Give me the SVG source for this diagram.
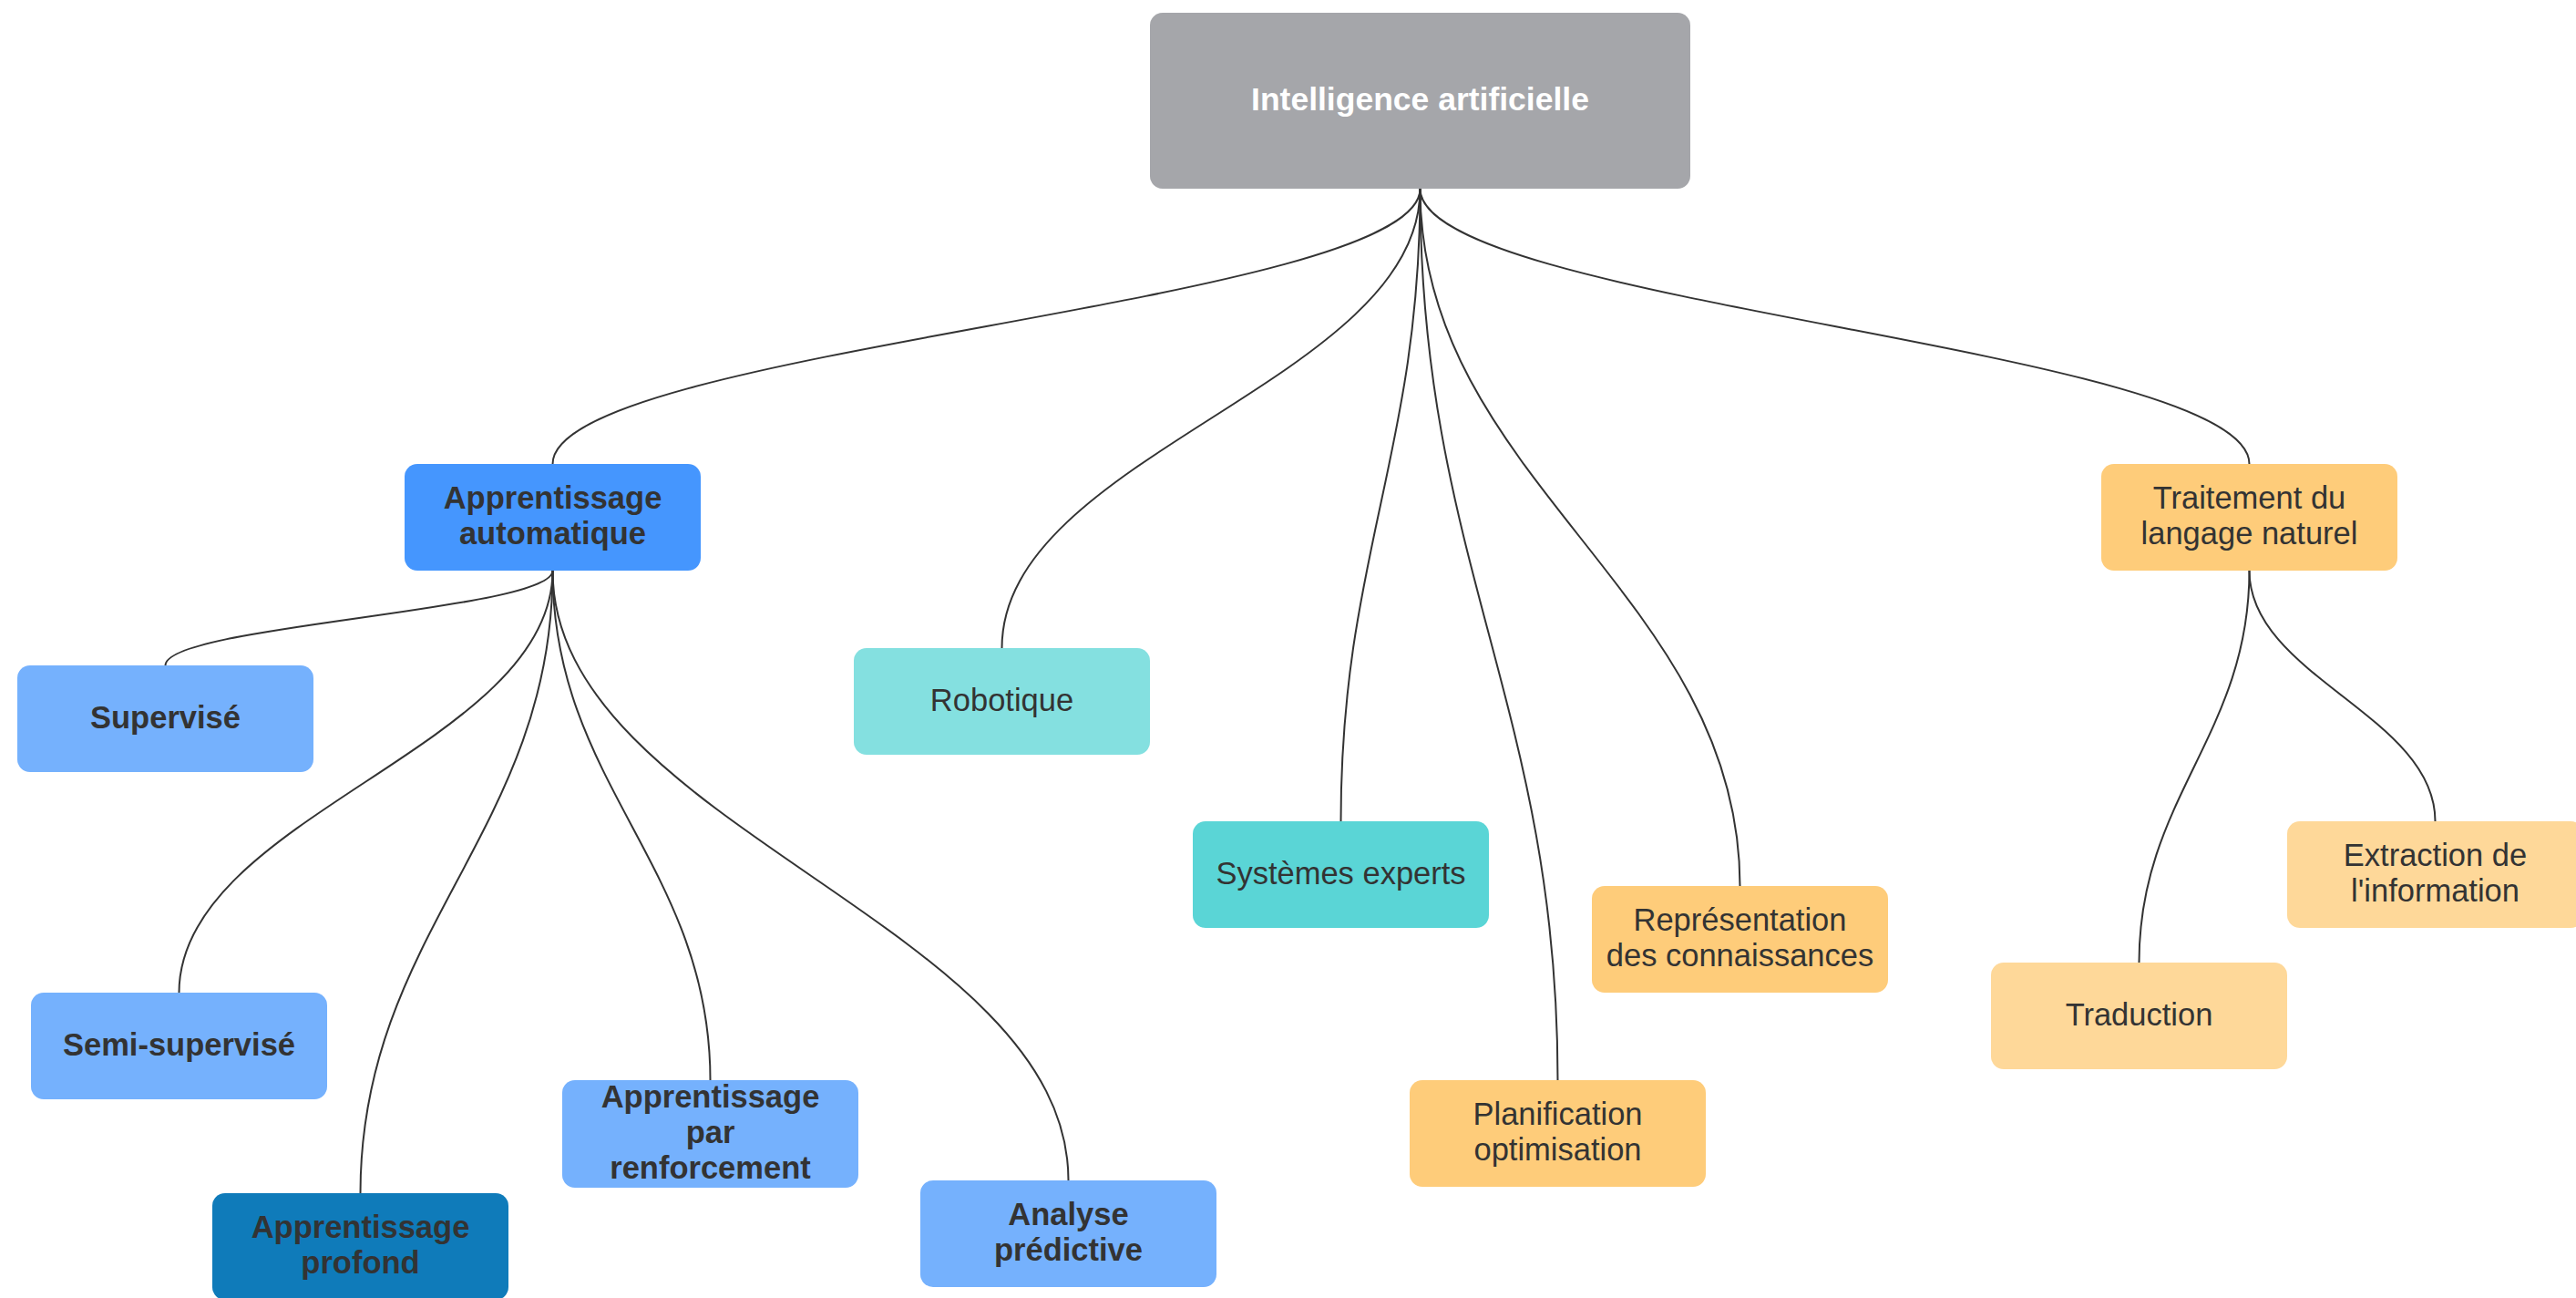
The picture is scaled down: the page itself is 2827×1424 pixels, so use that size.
<svg xmlns="http://www.w3.org/2000/svg" width="2827" height="1424" viewBox="0 0 2827 1424">
  <style>
    .box { stroke: none; }
    .t { font-family: "Liberation Sans", Arial, Helvetica, sans-serif; font-size: 34.5px; fill: #333333; text-anchor: middle; }
    .b { font-weight: bold; }
    .root { fill: #ffffff; font-weight: bold; font-size: 35.5px; }
    .edge { fill: none; stroke: #333333; stroke-width: 2; }
    .gray { fill: #a5a6aa; }
    .blue { fill: #4596fe; }
    .lblue { fill: #75b1fd; }
    .dblue { fill: #0f7bba; }
    .lteal { fill: #84e0e0; }
    .teal { fill: #5ad5d6; }
    .orange { fill: #fecc7a; }
    .lorange { fill: #fed899; }
  </style>
  <rect width="2827" height="1424" fill="#ffffff"/>
  <g id="connectors">
    <path class="edge" d="M1558.5,207 C1558.5,334 606.5,382 606.5,509"/>
    <path class="edge" d="M1558.5,207 C1558.5,419 1099.5,499 1099.5,711"/>
    <path class="edge" d="M1558.5,207 C1558.5,498 1471.5,610 1471.5,901"/>
    <path class="edge" d="M1558.5,207 C1558.5,618 1709.5,774 1709.5,1185"/>
    <path class="edge" d="M1558.5,207 C1558.5,528 1909.5,651 1909.5,972"/>
    <path class="edge" d="M1558.5,207 C1558.5,334 2468.5,382 2468.5,509"/>
    <path class="edge" d="M606.5,626 C606.5,670 181.5,686 181.5,730"/>
    <path class="edge" d="M606.5,626 C606.5,820 196.5,895 196.5,1089"/>
    <path class="edge" d="M606.5,626 C606.5,913 395.5,1022 395.5,1309"/>
    <path class="edge" d="M606.5,626 C606.5,861 779.5,950 779.5,1185"/>
    <path class="edge" d="M606.5,626 C606.5,907 1172.5,1014 1172.5,1295"/>
    <path class="edge" d="M2468.5,626 C2468.5,807 2347.5,875 2347.5,1056"/>
    <path class="edge" d="M2468.5,626 C2468.5,742 2672.5,785 2672.5,901"/>
  </g>
  <g id="node-root">
    <rect class="box gray" x="1262" y="14" width="593" height="193" rx="14"/>
    <text class="t root" x="1558.5" y="121">Intelligence artificielle</text>
  </g>
  <g id="node-apprentissage-automatique">
    <rect class="box blue" x="444" y="509" width="325" height="117" rx="14"/>
    <text class="t b" x="606.5" y="557.5">Apprentissage</text>
    <text class="t b" x="606.5" y="596.5">automatique</text>
  </g>
  <g id="node-supervise">
    <rect class="box lblue" x="19" y="730" width="325" height="117" rx="14"/>
    <text class="t b" x="181.5" y="799">Supervisé</text>
  </g>
  <g id="node-semi-supervise">
    <rect class="box lblue" x="34" y="1089" width="325" height="117" rx="14"/>
    <text class="t b" x="196.5" y="1158">Semi-supervisé</text>
  </g>
  <g id="node-apprentissage-profond">
    <rect class="box dblue" x="233" y="1309" width="325" height="117" rx="14"/>
    <text class="t b" x="395.5" y="1357.5">Apprentissage</text>
    <text class="t b" x="395.5" y="1396.5">profond</text>
  </g>
  <g id="node-renforcement">
    <rect class="box lblue" x="617" y="1185" width="325" height="118" rx="14"/>
    <text class="t b" x="779.5" y="1214.5">Apprentissage</text>
    <text class="t b" x="779.5" y="1253.5">par</text>
    <text class="t b" x="779.5" y="1292.5">renforcement</text>
  </g>
  <g id="node-analyse-predictive">
    <rect class="box lblue" x="1010" y="1295" width="325" height="117" rx="14"/>
    <text class="t b" x="1172.5" y="1343.5">Analyse</text>
    <text class="t b" x="1172.5" y="1382.5">prédictive</text>
  </g>
  <g id="node-robotique">
    <rect class="box lteal" x="937" y="711" width="325" height="117" rx="14"/>
    <text class="t" x="1099.5" y="780">Robotique</text>
  </g>
  <g id="node-systemes-experts">
    <rect class="box teal" x="1309" y="901" width="325" height="117" rx="14"/>
    <text class="t" x="1471.5" y="970">Systèmes experts</text>
  </g>
  <g id="node-representation">
    <rect class="box orange" x="1747" y="972" width="325" height="117" rx="14"/>
    <text class="t" x="1909.5" y="1020.5">Représentation</text>
    <text class="t" x="1909.5" y="1059.5">des connaissances</text>
  </g>
  <g id="node-planification">
    <rect class="box orange" x="1547" y="1185" width="325" height="117" rx="14"/>
    <text class="t" x="1709.5" y="1233.5">Planification</text>
    <text class="t" x="1709.5" y="1272.5">optimisation</text>
  </g>
  <g id="node-traitement">
    <rect class="box orange" x="2306" y="509" width="325" height="117" rx="14"/>
    <text class="t" x="2468.5" y="557.5">Traitement du</text>
    <text class="t" x="2468.5" y="596.5">langage naturel</text>
  </g>
  <g id="node-traduction">
    <rect class="box lorange" x="2185" y="1056" width="325" height="117" rx="14"/>
    <text class="t" x="2347.5" y="1125">Traduction</text>
  </g>
  <g id="node-extraction">
    <rect class="box lorange" x="2510" y="901" width="325" height="117" rx="14"/>
    <text class="t" x="2672.5" y="949.5">Extraction de</text>
    <text class="t" x="2672.5" y="988.5">l'information</text>
  </g>
</svg>
